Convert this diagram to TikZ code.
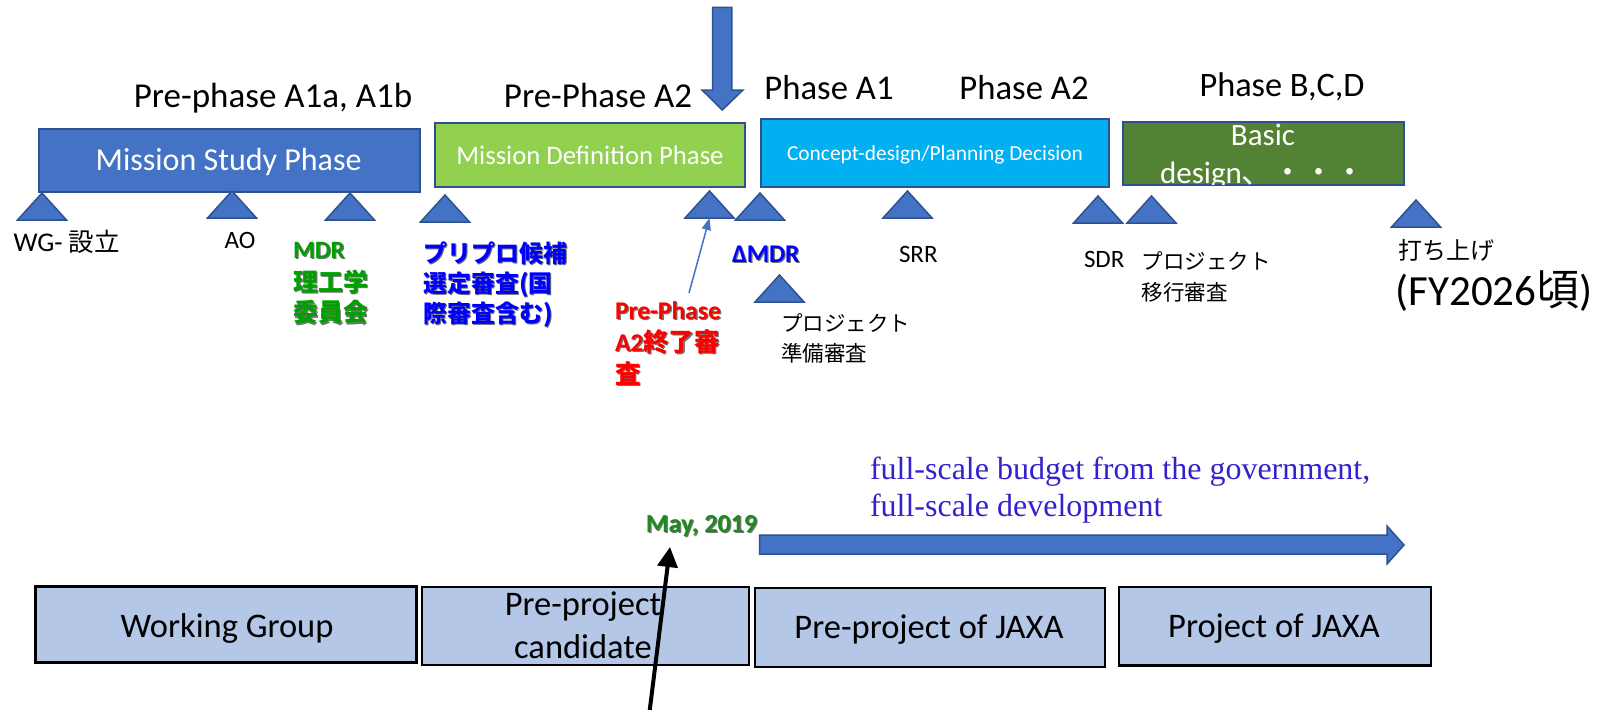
\documentclass[tikz,border=0pt]{standalone}
\usepackage{fontspec}
\setmainfont{Carlito}
\newfontfamily\jp{Noto Sans CJK JP}
\newfontfamily\tms{Liberation Serif}
\usetikzlibrary{arrows.meta}
\definecolor{bfill}{HTML}{4472C4}
\definecolor{bdr}{HTML}{2F528F}
\definecolor{lgreen}{HTML}{92D050}
\definecolor{cyanbox}{HTML}{00B0F0}
\definecolor{dgreen}{HTML}{548235}
\definecolor{paleblue}{HTML}{B4C7E7}
\definecolor{mdrgreen}{HTML}{00A000}
\definecolor{maygreen}{HTML}{1A8C1A}
\definecolor{budget}{HTML}{3322CC}
\newcommand\fs[2]{\fontsize{#1}{#2}\selectfont}
\newcommand\shd[2]{\rlap{\kern1.3pt\raisebox{-1.3pt}{\color{black!55}#2}}{\color{#1}#2}}
\newcommand\stackl[1]{\begin{tabular}[t]{@{}l@{}}#1\end{tabular}}
\newcommand\stackc[1]{\begin{tabular}[t]{@{}c@{}}#1\end{tabular}}
\tikzset{
  lbl/.style={inner sep=0pt, outer sep=0pt, anchor=base west},
  lblc/.style={inner sep=0pt, outer sep=0pt, anchor=base},
  topbox/.style={draw=bdr, line width=2pt, fill=#1, inner sep=0pt, outer sep=0pt},
  lowbox/.style={draw=black, line width=2.5pt, fill=paleblue, inner sep=0pt, outer sep=0pt},
  bigarrow/.style={fill=bfill, draw=bdr, line width=1.5pt},
  tri/.pic={\path[fill=bfill, draw=bdr, line width=1.5pt] (-24.5,0) -- (0,-27) -- (24.5,0) -- cycle;
            \coordinate (-b) at (0,0);},
}
\begin{document}
\begin{tikzpicture}[x=1pt,y=-1pt]
\useasboundingbox (0,0) rectangle (1605,709);
\fill[white] (0,0) rectangle (1605,709);

% ---- headers
\node[lblc, font=\fs{35}{40}] (hA1) at (273,107) {Pre-phase A1a, A1b};
\node[lblc, font=\fs{35}{40}] (hA2) at (598,107) {Pre-Phase A2};
\node[lblc, font=\fs{34.7}{40}] (hPA1) at (829,99.3) {Phase A1};
\node[lblc, font=\fs{34.7}{40}] (hPA2) at (1024,99) {Phase A2};
\node[lblc, font=\fs{34.3}{40}] (hBCD) at (1282,96.7) {Phase B,C,D};

% ---- top down arrow
\path[bigarrow] (712.7,7.3) -- (731.8,7.3) -- (731.8,90) -- (743,90) -- (722.3,110)
   -- (702,90) -- (712.7,90) -- cycle;

% ---- phase boxes
\node[topbox=bfill, minimum width=381pt, minimum height=63pt] (msp) at (229,160.5) {};
\node[topbox=lgreen, minimum width=310pt, minimum height=64pt] (mdp) at (589.5,155) {};
\node[topbox=cyanbox, minimum width=348pt, minimum height=68pt] (cdp) at (934.5,153) {};
\node[topbox=dgreen, minimum width=281pt, minimum height=63pt] (bdp) at (1263,153.5) {};

\node[lblc, font=\fs{32}{38}, text=white] (tMSP) at (228.6,170.7) {Mission Study Phase};
\node[lblc, font=\fs{26.7}{32}, text=white] (tMDP) at (590,164.3) {Mission Definition Phase};
\node[lblc, font=\fs{21.4}{26}, text=white] (tCDP) at (935,160) {Concept-design/Planning Decision};
\begin{scope}
  \clip (1123.5,123) rectangle (1402.5,184);
  \node[lblc, font=\fs{31}{38}, text=white] (tBDP) at (1263,145) {\stackc{Basic\\design{\jp 、・・・}}};
\end{scope}

% ---- milestone triangles
\pic (tWG) at (42,220) {tri};
\pic (tAO) at (232,218) {tri};
\pic (tMDR) at (350,220) {tri};
\pic (tPP) at (445,222) {tri};
\pic (tA2) at (709.5,218) {tri};
\pic (tDMDR) at (760,220) {tri};
\pic (tSRR) at (907.5,218) {tri};
\pic (tSDR) at (1098,223) {tri};
\pic (tPT) at (1151.5,223) {tri};
\pic (tLaunch) at (1416,227) {tri};
\pic (tPrep) at (779.5,302) {tri};

% ---- milestone labels
\node[lbl, font=\fs{27}{30}] (lWG) at (13.5,251) {WG- {\jp\fs{25.5}{30}設立}};
\node[lblc, font=\fs{25}{30}] (lAO) at (240,248) {AO};
\node[lbl, font=\bfseries\fs{25}{30}] (lMDR) at (293,258)
  {\stackl{\shd{mdrgreen}{MDR}\\[3pt]\shd{mdrgreen}{\jp 理工学}\\\shd{mdrgreen}{\jp 委員会}}};
\node[lbl, font=\bfseries\fs{24}{30}] (lPP) at (423,262)
  {\stackl{\shd{blue}{\jp プリプロ候補}\\\shd{blue}{\jp 選定審査(国}\\\shd{blue}{\jp 際審査含む)}}};
\node[lbl, font=\bfseries\fs{25.5}{32}] (lA2) at (615,319)
  {\stackl{\shd{red}{Pre-Phase}\\\shd{red}{A2{\jp 終了審}}\\\shd{red}{\jp 査}}};
\node[lbl, font=\bfseries\fs{25.5}{30}] (lDMDR) at (732,262) {\shd{blue}{ΔMDR}};
\node[lbl, font=\fs{25}{30}] (lSRR) at (899,262) {SRR};
\node[lbl, font=\fs{25}{30}] (lSDR) at (1084,267) {SDR};
\node[lbl, font=\jp\fs{21.5}{31}] (lPT) at (1141.5,269) {\stackl{プロジェクト\\移行審査}};
\node[lbl, font=\jp\fs{21.5}{30}] (lPrep) at (781,331) {\stackl{プロジェクト\\準備審査}};
\node[lbl, font=\jp\fs{24}{30}] (lLaunch) at (1398,259) {打ち上げ};
\node[lbl, font=\fs{43}{48}] (lFY) at (1395.5,305) {(FY2026{\jp 頃})};

% ---- thin arrow to Pre-Phase A2 end review
\coordinate (a2start) at (689,293);
\draw[bfill, line width=1.5pt, -{Triangle[width=9pt,length=12pt]}] (a2start) -- (tA2-b);

% ---- budget text and arrow
\node[lbl, font=\tms\fs{32}{37}, text=budget] (lBudget) at (870,479)
  {\stackl{full-scale budget from the government,\\full-scale development}};
\node[lblc, font=\bfseries\fs{26}{30}] (lMay) at (701.5,532) {\shd{maygreen}{May, 2019}};
\path[bigarrow] (759.5,535) -- (1387,535) -- (1387,526) -- (1404,545) -- (1387,564)
   -- (1387,554) -- (759.5,554) -- cycle;

% ---- lower boxes
\node[lowbox, minimum width=381pt, minimum height=75.6pt] (wg) at (226.2,624.5) {};
\node[lowbox, minimum width=327pt, minimum height=78pt] (ppc) at (585.4,626) {};
\node[lowbox, minimum width=350pt, minimum height=79pt] (ppj) at (930.2,627.5) {};
\node[lowbox, minimum width=312pt, minimum height=78.6pt] (pj) at (1274.9,626.3) {};
\node[lblc, font=\fs{34.5}{43}] (tWGr) at (227,637) {Working Group};
\node[lblc, font=\fs{34.5}{43}] (tPPC) at (583,615) {\stackc{Pre-project\\candidate}};
\node[lblc, font=\fs{34.5}{43}] (tPPJ) at (929,638) {Pre-project of JAXA};
\node[lblc, font=\fs{34.5}{43}] (tPJ) at (1274,637) {Project of JAXA};

% ---- black arrow
\coordinate (blkstart) at (649.5,712);
\coordinate (blkend) at (670,547);
\draw[line width=4pt, -{Triangle[width=20pt,length=20pt]}] (blkstart) -- (blkend);
\end{tikzpicture}
\end{document}
